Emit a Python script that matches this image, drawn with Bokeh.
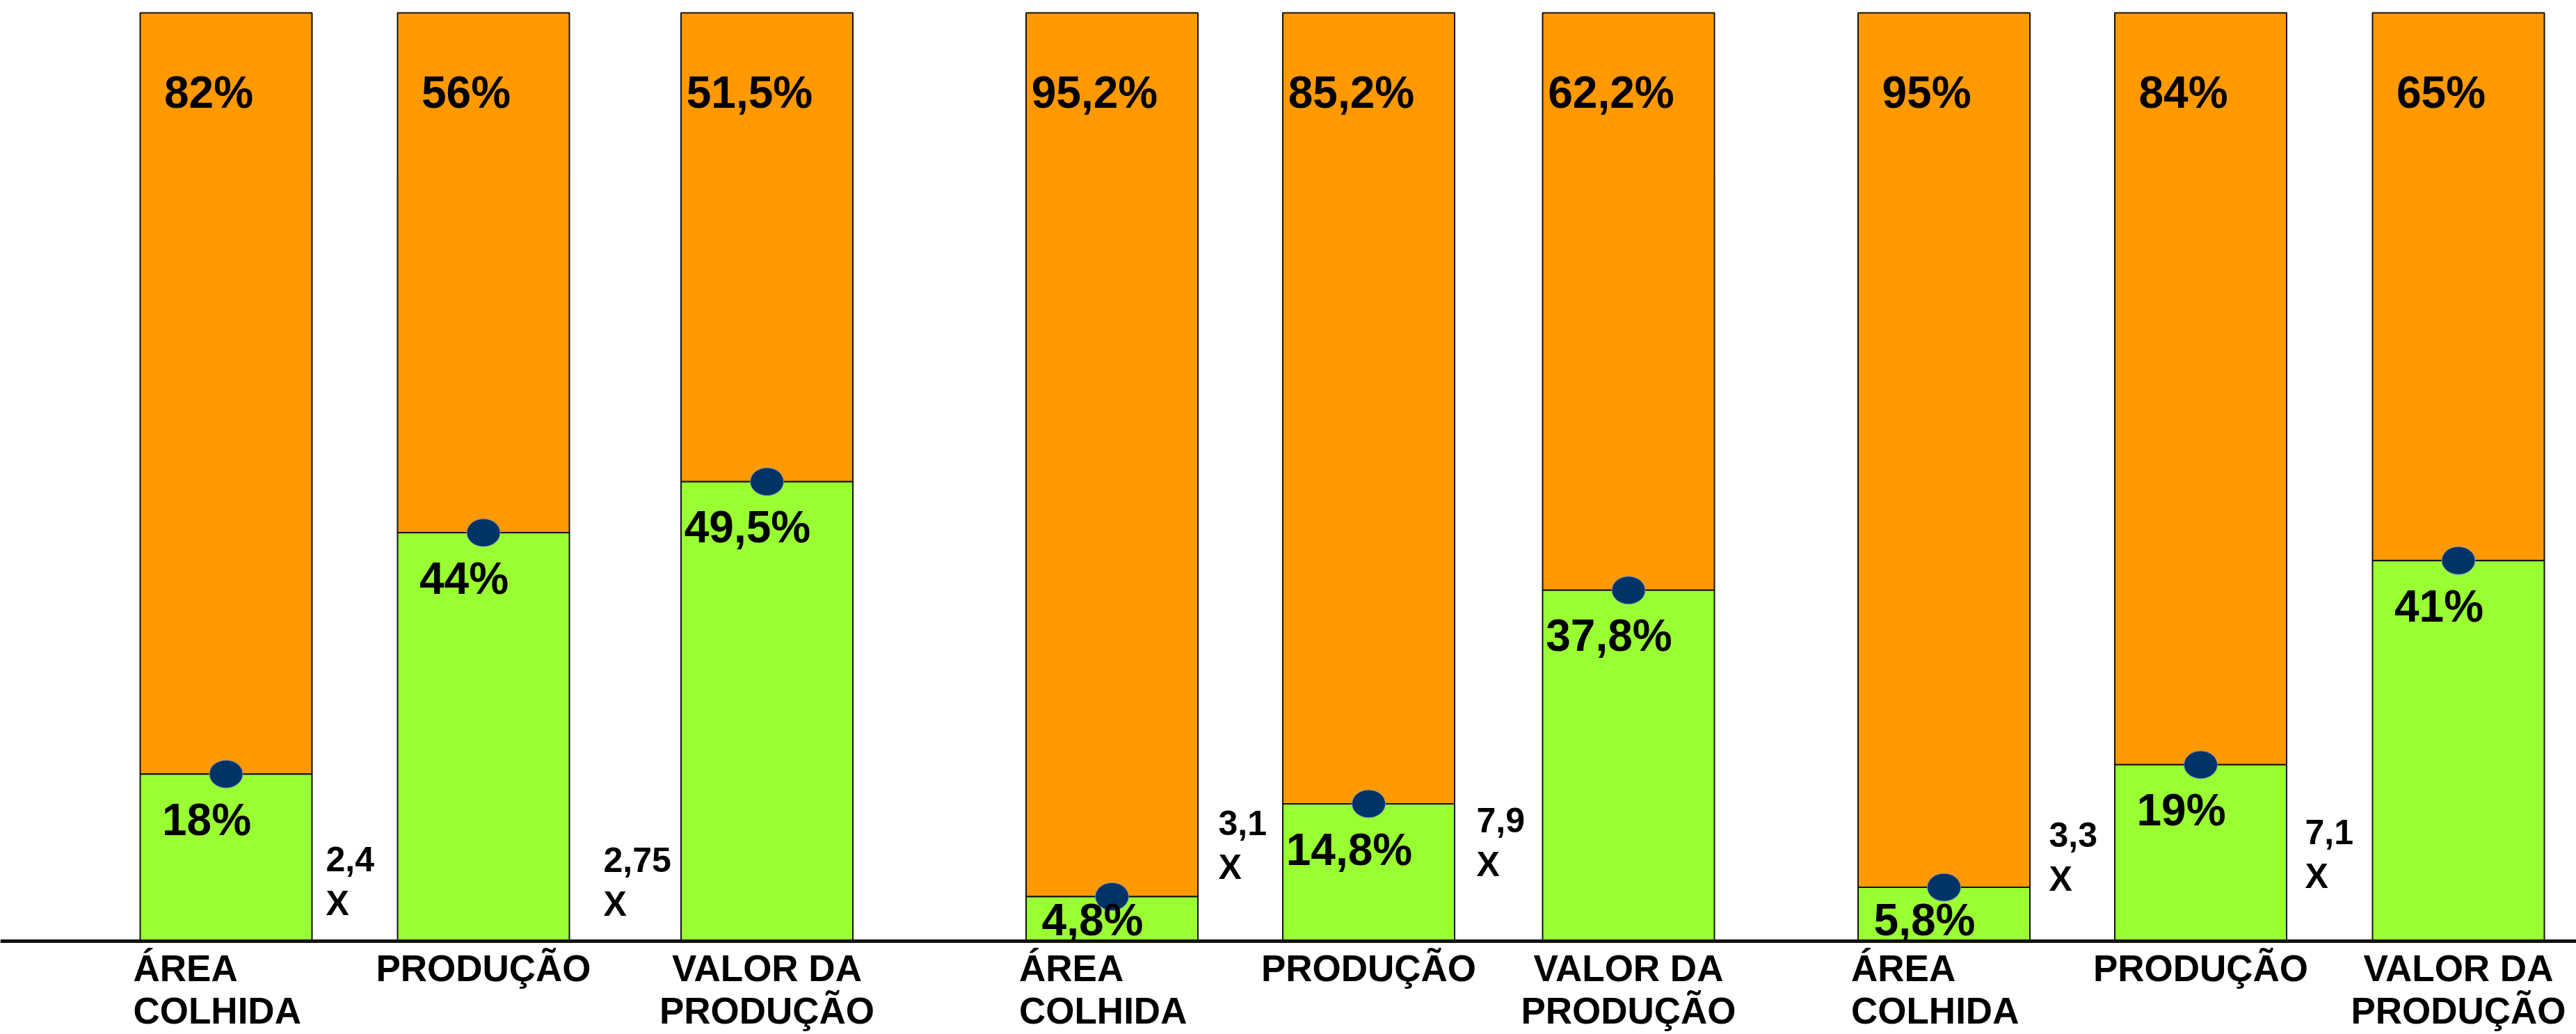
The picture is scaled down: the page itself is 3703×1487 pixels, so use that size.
from bokeh.plotting import figure
from bokeh.models import Range1d, Span
from bokeh.embed import file_html
from bokeh.resources import INLINE
from bokeh.core.properties import value

# ---------------- data ----------------
categories = ["ÁREA COLHIDA", "PRODUÇÃO", "VALOR DA PRODUÇÃO"]
cat_line1 = ["ÁREA", "PRODUÇÃO", "VALOR DA"]
cat_line2 = ["COLHIDA", "", "PRODUÇÃO"]
green_share = [18.0, 44.0, 49.5, 4.8, 14.8, 37.8, 5.8, 19.0, 41.0]
orange_share = [82.0, 56.0, 51.5, 95.2, 85.2, 62.2, 95.0, 84.0, 65.0]
green_labels = ["18%", "44%", "49,5%", "4,8%", "14,8%", "37,8%", "5,8%", "19%", "41%"]
orange_labels = ["82%", "56%", "51,5%", "95,2%", "85,2%", "62,2%", "95%", "84%", "65%"]
multipliers = ["2,4", "2,75", "3,1", "7,9", "3,3", "7,1"]
total = 100.0

# ---------------- layout ----------------
W, H = 3703, 1487
top_px, base_px = 18, 1353          # pixel rows of 100 % and 0 %
k = total / (base_px - top_px)      # data units per pixel
y_end = total + top_px * k
y_start = -(H - base_px) * k
SHIFT = 0.35                        # baseline correction (fraction of font size)


def py(px):
    """pixel row -> data y"""
    return (base_px - px) * k


def to_px(v):
    return base_px - v / k


bar_x = [324.5, 694.5, 1102, 1598, 1967, 2340.5, 2794, 3163, 3533.5]
bar_w = 247
mult_x = [468, 867, 1751, 2122, 2945, 3313]
mult_base_px = [1252, 1253, 1200, 1196, 1217, 1213]

FONT = value("Liberation Sans")
PCT_FS, MULT_FS, CAT_FS = 64, 50, 53

p = figure(width=W, height=H, x_range=Range1d(0, W), y_range=Range1d(y_start, y_end),
           output_backend="svg", toolbar_location=None, min_border=0,
           background_fill_color="white", border_fill_color="white")
p.axis.visible = False
p.grid.visible = False
p.outline_line_color = None

tops = [total] * len(bar_x)
p.vbar(x=bar_x, width=bar_w, bottom=green_share, top=tops,
       fill_color="#FF9900", line_color="#111111", line_width=2)
p.vbar(x=bar_x, width=bar_w, bottom=0, top=green_share,
       fill_color="#99FF33", line_color="#111111", line_width=2)

p.add_layout(Span(location=0, dimension="width", line_color="#111111", line_width=5))

p.ellipse(x=bar_x, y=green_share, width=48, height=40,
          width_units="screen", height_units="screen",
          fill_color="#003366", line_color="#7f8fbf", line_width=1)

# orange (top) labels
p.text(x=[x - 25 for x in bar_x], y=[py(155 - SHIFT * PCT_FS)] * len(bar_x), text=orange_labels,
       text_font=FONT, text_font_style="bold", text_font_size=f"{PCT_FS}px",
       text_align="center", text_baseline="alphabetic", text_color="black")

# green labels (kept inside the green part)
g_base = [min(to_px(g) + 88, base_px - 8) for g in green_share]
p.text(x=[x - 28 for x in bar_x], y=[py(b - SHIFT * PCT_FS) for b in g_base], text=green_labels,
       text_font=FONT, text_font_style="bold", text_font_size=f"{PCT_FS}px",
       text_align="center", text_baseline="alphabetic", text_color="black")

# multipliers
p.text(x=mult_x, y=[py(b - SHIFT * MULT_FS) for b in mult_base_px], text=multipliers,
       text_font=FONT, text_font_style="bold", text_font_size=f"{MULT_FS}px",
       text_align="left", text_baseline="alphabetic", text_color="black")
p.text(x=mult_x, y=[py(b + 64 - SHIFT * MULT_FS) for b in mult_base_px], text=["X"] * len(multipliers),
       text_font=FONT, text_font_style="bold", text_font_size=f"{MULT_FS}px",
       text_align="left", text_baseline="alphabetic", text_color="black")

# category labels
n_groups = len(bar_x) // len(categories)
for ci in range(len(categories)):
    xs = [bar_x[g * len(categories) + ci] for g in range(n_groups)]
    if ci == 0:
        xs = [x - bar_w / 2 - 10 for x in xs]
        align = "left"
    else:
        align = "center"
    p.text(x=xs, y=[py(1411 - SHIFT * CAT_FS)] * n_groups, text=[cat_line1[ci]] * n_groups,
           text_font=FONT, text_font_style="bold", text_font_size=f"{CAT_FS}px",
           text_align=align, text_baseline="alphabetic", text_color="black")
    if cat_line2[ci]:
        p.text(x=xs, y=[py(1472 - SHIFT * CAT_FS)] * n_groups, text=[cat_line2[ci]] * n_groups,
               text_font=FONT, text_font_style="bold", text_font_size=f"{CAT_FS}px",
               text_align=align, text_baseline="alphabetic", text_color="black")

open("out.html", "w").write(file_html(p, INLINE))
